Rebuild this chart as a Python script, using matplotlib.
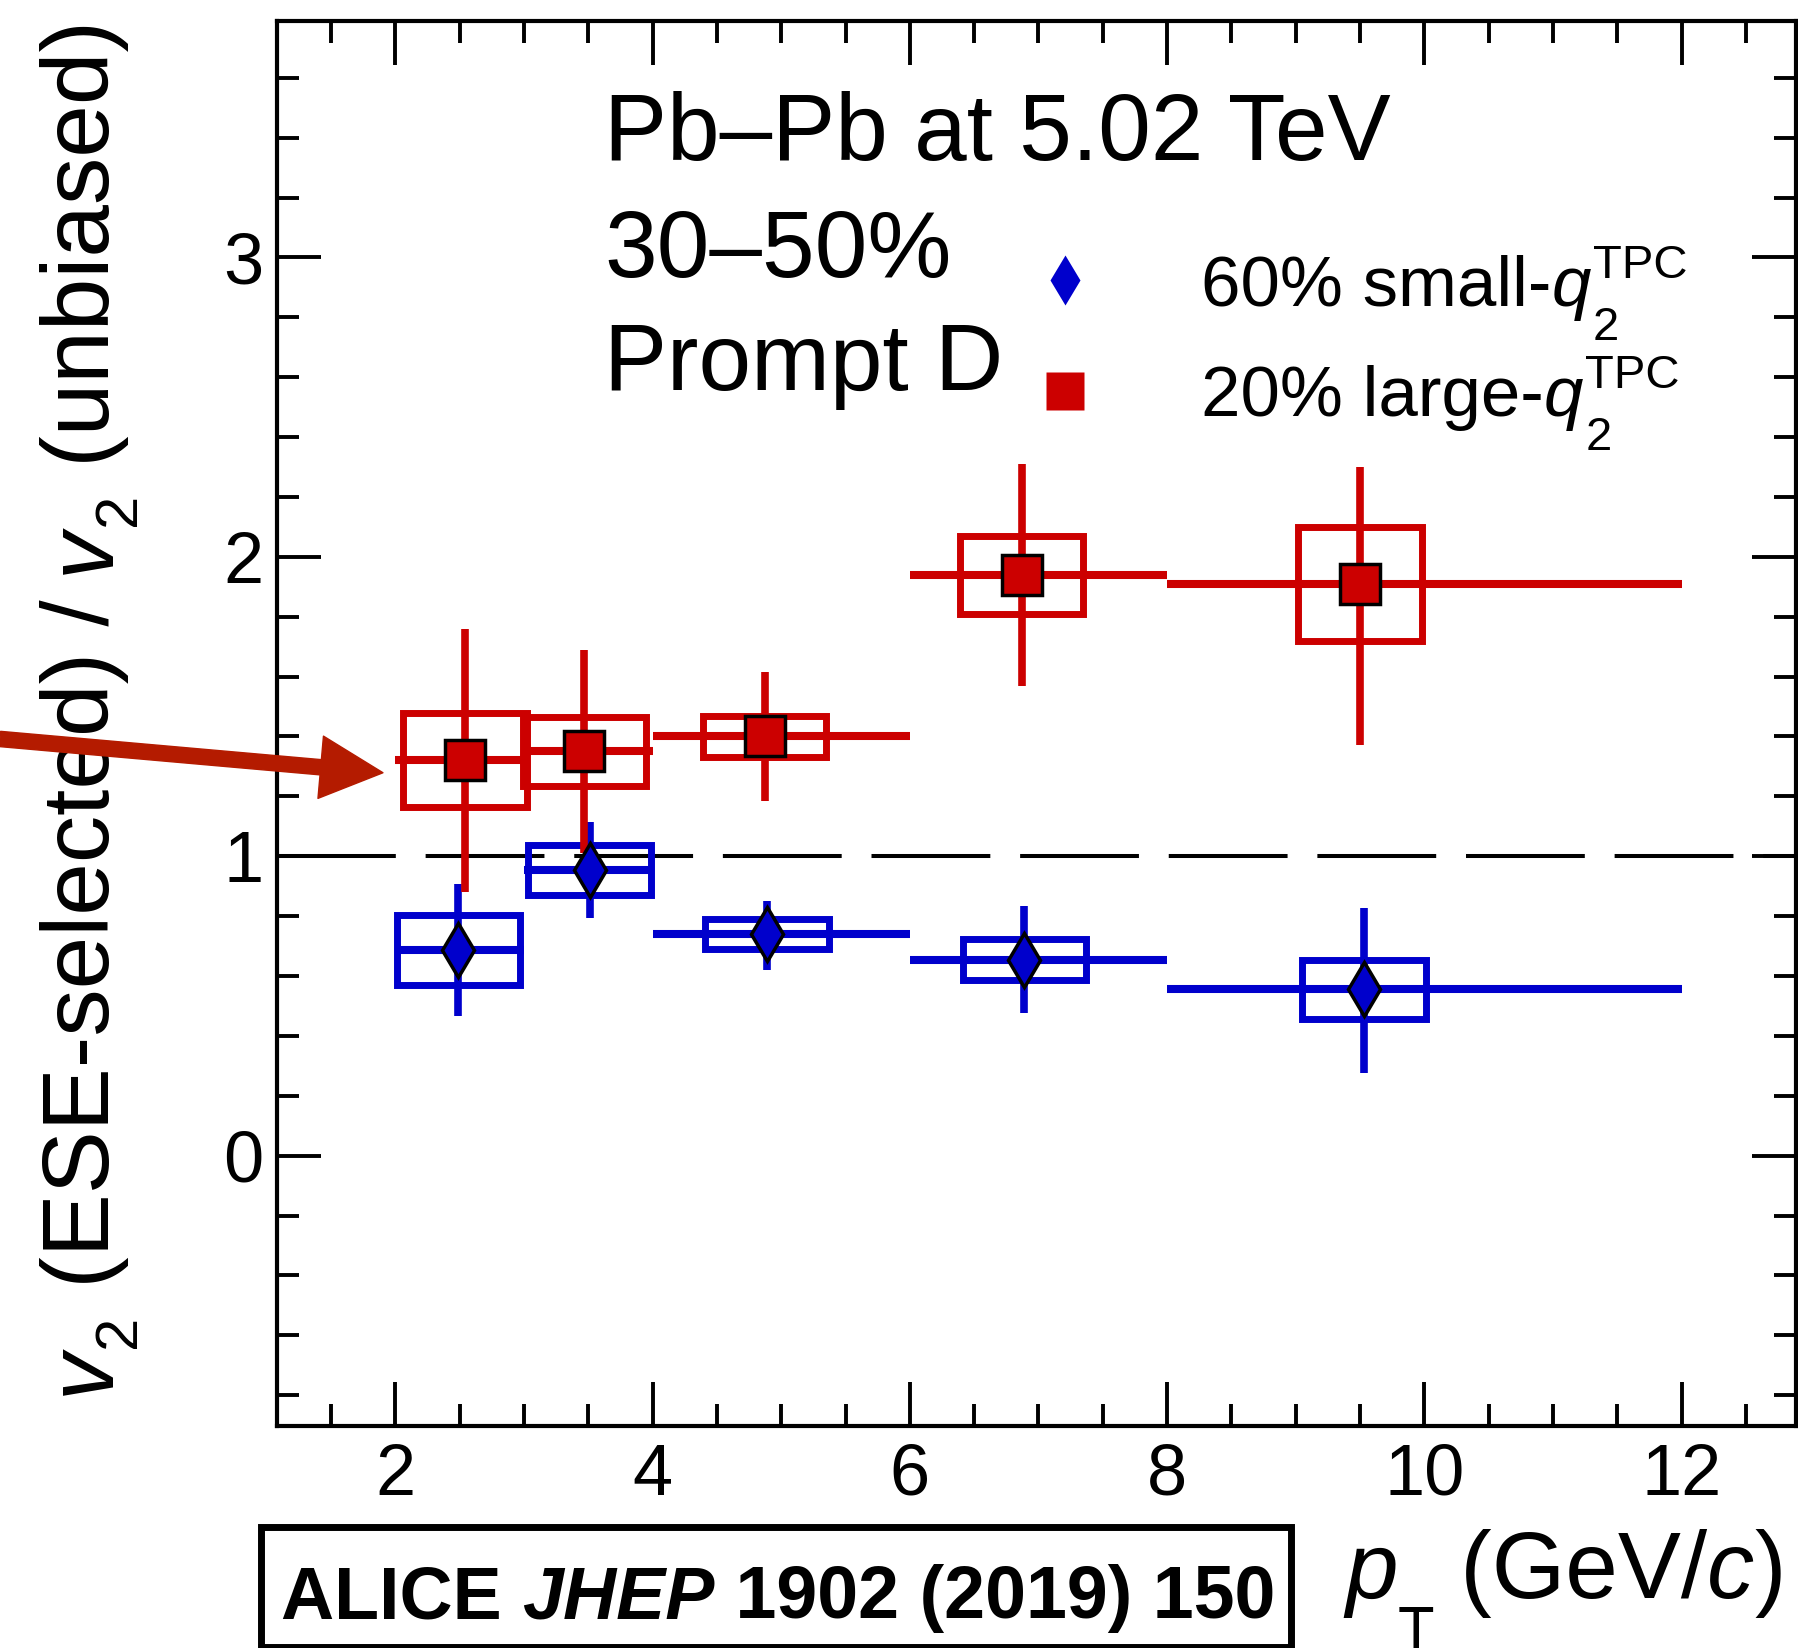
import numpy as np
import matplotlib
matplotlib.use('Agg')
import matplotlib.pyplot as plt
from matplotlib.patches import Rectangle, FancyArrowPatch, ArrowStyle
from matplotlib.ticker import MultipleLocator

plt.rcParams['font.family'] = 'Liberation Sans'

################### data ##################################################

pt_lo = [2.0, 3.0, 4.0, 6.0, 8.0]
pt_hi = [3.0, 4.0, 6.0, 8.0, 12.0]

# 20% large-q2
large_x = [2.54, 3.47, 4.87, 6.87, 9.50]
large_y = [1.32, 1.35, 1.40, 1.94, 1.91]
large_stat_up = [0.44, 0.34, 0.215, 0.37, 0.39]
large_stat_dn = [0.44, 0.34, 0.215, 0.37, 0.54]
large_syst = [0.157, 0.115, 0.07, 0.13, 0.19]

# 60% small-q2
small_x = [2.49, 3.51, 4.89, 6.89, 9.53]
small_y = [0.686, 0.954, 0.74, 0.655, 0.556]
small_stat_up = [0.22, 0.16, 0.11, 0.18, 0.27]
small_stat_dn = [0.22, 0.16, 0.12, 0.18, 0.28]
small_syst = [0.117, 0.084, 0.05, 0.067, 0.098]

box_hw = 0.48

red = '#cc0000'
blue = '#0000cc'

W, H = 1798, 1648

################### plot ##################################################

fig = plt.figure(figsize=(W / 100, H / 100), dpi=100)
ax = fig.add_axes([0.1541, 0.1347, 0.8448, 0.8526])
renderer = fig.canvas.get_renderer()

def draw_set(x, y, up, dn, syst, col):
    for i in range(len(x)):
        ax.add_patch(Rectangle((x[i] - box_hw, y[i] - syst[i]), 2 * box_hw, 2 * syst[i],
                               fill=False, ec=col, lw=5, zorder=3))
    ax.hlines(y, pt_lo, pt_hi, color=col, lw=5.8, zorder=3)
    ax.vlines(x, np.array(y) - np.array(dn), np.array(y) + np.array(up),
              color=col, lw=5.5, zorder=3)

draw_set(small_x, small_y, small_stat_up, small_stat_dn, small_syst, blue)
draw_set(large_x, large_y, large_stat_up, large_stat_dn, large_syst, red)

ax.plot(small_x, small_y, 'd', ms=27, mfc=blue, mec='k', mew=2.5, zorder=5)
ax.plot(large_x, large_y, 's', ms=29, mfc=red, mec='k', mew=2.5, zorder=5)

ax.axhline(1.0, color='k', lw=2.9, dashes=(29.5, 7.4), zorder=2)

ax.set_xlim(1.08, 12.89)
ax.set_ylim(-0.903, 3.79)

ax.xaxis.set_major_locator(MultipleLocator(2))
ax.xaxis.set_minor_locator(MultipleLocator(0.5))
ax.yaxis.set_major_locator(MultipleLocator(1))
ax.yaxis.set_minor_locator(MultipleLocator(0.2))
ax.tick_params(which='both', direction='in', top=True, right=True, width=2.8)
ax.tick_params(which='major', length=32)
ax.tick_params(which='minor', length=16)
ax.tick_params(axis='x', which='major', labelsize=52, pad=12)
ax.tick_params(axis='y', which='major', labelsize=52, pad=10)
for s in ax.spines.values():
    s.set_linewidth(3)

# text made of pieces, ROOT-like sub/superscripts (positions in pixels)
def put_pieces(x0, y0, pieces, rot=0):
    pos = x0 if rot == 0 else y0
    for txt, size, sty, shift in pieces:
        sh = shift * 100 / 72.0
        if rot == 0:
            t = fig.text(pos / W, (y0 + sh) / H, txt, fontsize=size, style=sty,
                         ha='left', va='baseline')
        else:
            t = fig.text((x0 - sh) / W, pos / H, txt, fontsize=size, style=sty,
                         rotation=90, rotation_mode='anchor', ha='left', va='baseline')
        bb = t.get_window_extent(renderer)
        pos = pos + (bb.width if rot == 0 else bb.height)
    return pos

# y title
put_pieces(109, H - 1395, [('v', 68, 'italic', 0), ('2', 43, 'normal', -19),
                           (' (ESE-selected) / ', 68, 'normal', 0),
                           ('v', 68, 'italic', 0), ('2', 43, 'normal', -19),
                           (' (unbiased)', 68, 'normal', 0)], rot=90)

# x title
put_pieces(1345, H - 1598, [('p', 68, 'italic', 0), ('T', 43, 'normal', -36),
                            (' (GeV/', 68, 'normal', 0), ('c', 68, 'italic', 0),
                            (')', 68, 'normal', 0)])

# system text
for txt, yb in [('Pb\u2013Pb at 5.02 TeV', 160), ('30\u201350%', 277), ('Prompt D', 390)]:
    fig.text(604 / W, 1 - yb / H, txt, fontsize=68, ha='left', va='baseline')

# legend
ax.plot([1065 / W], [1 - 280 / H], 'd', ms=25, mfc=blue, mec='none',
        transform=fig.transFigure, clip_on=False)
ax.plot([1065 / W], [1 - 390.5 / H], 's', ms=27, mfc=red, mec='none',
        transform=fig.transFigure, clip_on=False)
for lab, yb in [('60% small-', 306), ('20% large-', 416)]:
    xq = put_pieces(1201, H - yb, [(lab, 51, 'normal', 0), ('q', 51, 'italic', 0)])
    put_pieces(xq + 2, H - yb, [('2', 34, 'normal', -24.5)])
    put_pieces(xq + 2, H - yb, [('TPC', 34, 'normal', 20)])

# reference box
fig.add_artist(Rectangle((0.1454, 0.0008), 0.5726, 0.0728, fill=False, ec='k', lw=5,
                         transform=fig.transFigure))
xt = 0.1563
for txt, sty in [('ALICE ', 'normal'), ('JHEP', 'italic'), (' 1902 (2019) 150', 'normal')]:
    t = fig.text(xt, 0.0182, txt, fontsize=53, fontweight='bold', style=sty,
                 ha='left', va='baseline')
    bb = t.get_window_extent(renderer)
    xt = xt + bb.width / fig.bbox.width

# arrow
arr = FancyArrowPatch((0.0, 0.5516), (0.2130, 0.5311), transform=fig.transFigure,
                      arrowstyle=ArrowStyle.Simple(head_length=45, head_width=45, tail_width=11),
                      mutation_scale=1, color='#b41b00', shrinkA=0, shrinkB=0, zorder=10)
fig.add_artist(arr)

plt.savefig('out.png', dpi=100)
plt.close()
